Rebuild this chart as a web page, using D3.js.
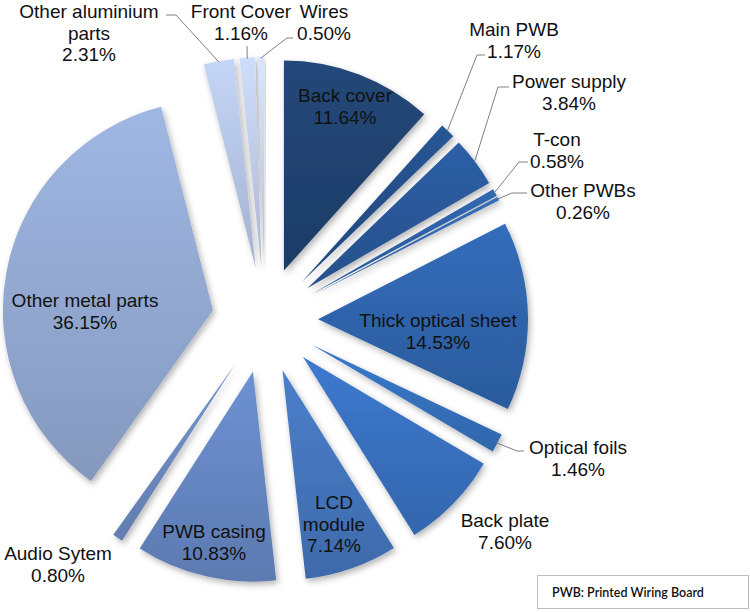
<!DOCTYPE html>
<html>
<head>
<meta charset="utf-8">
<script src="https://cdn.jsdelivr.net/npm/d3@7/dist/d3.min.js"></script>
<style>
  html, body { margin: 0; padding: 0; background: #ffffff; }
  svg { display: block; }
  text { font-family: "Liberation Sans", Arial, sans-serif; }
</style>
</head>
<body>
<svg id="chart" width="750" height="612"></svg>
<script>
// ---- data ----
const categories = [
  "Back cover", "Main PWB", "Power supply", "T-con", "Other PWBs",
  "Thick optical sheet", "Optical foils", "Back plate", "LCD module",
  "PWB casing", "Audio Sytem", "Other metal parts", "Other aluminium parts",
  "Front Cover", "Wires"
];
const values = [11.64, 1.17, 3.84, 0.58, 0.26, 14.53, 1.46, 7.60, 7.14, 10.83, 0.80, 36.15, 2.31, 1.16, 0.50];
const valueLabels = ["11.64%", "1.17%", "3.84%", "0.58%", "0.26%", "14.53%", "1.46%", "7.60%", "7.14%", "10.83%", "0.80%", "36.15%", "2.31%", "1.16%", "0.50%"];
const colors = ["#20426f", "#254f88", "#295798", "#2d5fa4", "#3065ab", "#2f64ab", "#3570bb", "#386fbd", "#4474ba",
                "#6585c0", "#6b89be", "#91a7d0", "#b3c3e2", "#bccae6", "#c6d2ea"];
const legendText = "PWB: Printed Wiring Board";

// ---- layout ----
const W = 750, H = 612;
const cx = 265, cy = 320, R = 210, explode = 53;

// label text lines, anchor x, first baseline y (layout only)
const labelLayout = [
  { lines: ["Back cover"], x: 345, y: 102 },
  { lines: ["Main PWB"], x: 514, y: 36 },
  { lines: ["Power supply"], x: 569, y: 88 },
  { lines: ["T-con"], x: 557, y: 146 },
  { lines: ["Other PWBs"], x: 583, y: 197 },
  { lines: ["Thick optical sheet"], x: 438, y: 327 },
  { lines: ["Optical foils"], x: 578, y: 454 },
  { lines: ["Back plate"], x: 505, y: 527 },
  { lines: ["LCD", "module"], x: 334, y: 509 },
  { lines: ["PWB casing"], x: 214, y: 538 },
  { lines: ["Audio Sytem"], x: 58, y: 560 },
  { lines: ["Other metal parts"], x: 85, y: 307 },
  { lines: ["Other aluminium", "parts"], x: 89, y: 18 },
  { lines: ["Front Cover"], x: 241, y: 18 },
  { lines: ["Wires"], x: 324, y: 18 }
];
// leader elbows: [elbow, end] for outside labels
const leaders = {
  1: [[477, 55], [485, 55]],
  2: [[498, 87], [509, 87]],
  3: [[519, 162], [528, 162]],
  4: [[512, 193], [527, 193]],
  6: [[517, 451], [524, 451]],
  12: [[176, 15], [166, 15]],
  13: [[247, 46], [247, 46]],
  14: [[287, 38], [293, 38]]
};

const svg = d3.select("#chart");
const defs = svg.append("defs");

const filter = defs.append("filter").attr("id", "shadow")
  .attr("x", "-20%").attr("y", "-20%").attr("width", "140%").attr("height", "140%");
filter.append("feDropShadow").attr("dx", 2).attr("dy", 3).attr("stdDeviation", 3)
  .attr("flood-color", "#000").attr("flood-opacity", 0.3);

colors.forEach((c, i) => {
  const g = defs.append("linearGradient").attr("id", "grad" + i)
    .attr("x1", 0).attr("y1", 0).attr("x2", 0).attr("y2", 1);
  g.append("stop").attr("offset", "0%").attr("stop-color", d3.color(c).brighter(0.25));
  g.append("stop").attr("offset", "100%").attr("stop-color", d3.color(c).darker(0.25));
});

const data = categories.map((c, i) => ({ name: c, value: values[i], label: valueLabels[i], i }));
const pie = d3.pie().value(d => d.value).sort(null).startAngle(0).endAngle(2 * Math.PI);
const arcs = pie(data);
const arc = d3.arc().innerRadius(0).outerRadius(R);

const g = svg.append("g").attr("transform", `translate(${cx},${cy})`);

function offset(a) {
  const mid = (a.startAngle + a.endAngle) / 2;
  return [explode * Math.sin(mid), -explode * Math.cos(mid)];
}

g.selectAll("path.slice").data(arcs).enter().append("path")
  .attr("class", "slice")
  .attr("d", arc)
  .attr("transform", d => { const o = offset(d); return `translate(${o[0]},${o[1]})`; })
  .attr("fill", d => `url(#grad${d.index})`)
  .attr("filter", "url(#shadow)");

// leader lines
const leaderG = svg.append("g");
arcs.forEach(a => {
  const L = leaders[a.index];
  if (!L) return;
  const mid = (a.startAngle + a.endAngle) / 2;
  const r = R + explode - 1;
  const sx = cx + r * Math.sin(mid), sy = cy - r * Math.cos(mid);
  const pts = [[sx, sy], L[0], L[1]];
  leaderG.append("path")
    .attr("d", d3.line()(pts))
    .attr("fill", "none").attr("stroke", "#808080").attr("stroke-width", 1);
});

// labels
const lblG = svg.append("g");
arcs.forEach(a => {
  const lay = labelLayout[a.index];
  const lines = lay.lines.concat([a.data.label]);
  const t = lblG.append("text")
    .attr("text-anchor", "middle")
    .attr("font-size", 19)
    .attr("fill", "#111");
  lines.forEach((ln, k) => {
    t.append("tspan").attr("x", lay.x).attr("y", lay.y + k * 21.5).text(ln);
  });
});

// legend box
svg.append("rect").attr("x", 537.5).attr("y", 575.5).attr("width", 211).attr("height", 33)
  .attr("fill", "#fff").attr("stroke", "#bfbfbf").attr("stroke-width", 1);
svg.append("text").attr("x", 552).attr("y", 597)
  .attr("font-size", 12.5).attr("fill", "#111")
  .style("font-family", "Lato, 'Noto Sans', sans-serif")
  .style("font-weight", 600)
  .text(legendText);
</script>
</body>
</html>
